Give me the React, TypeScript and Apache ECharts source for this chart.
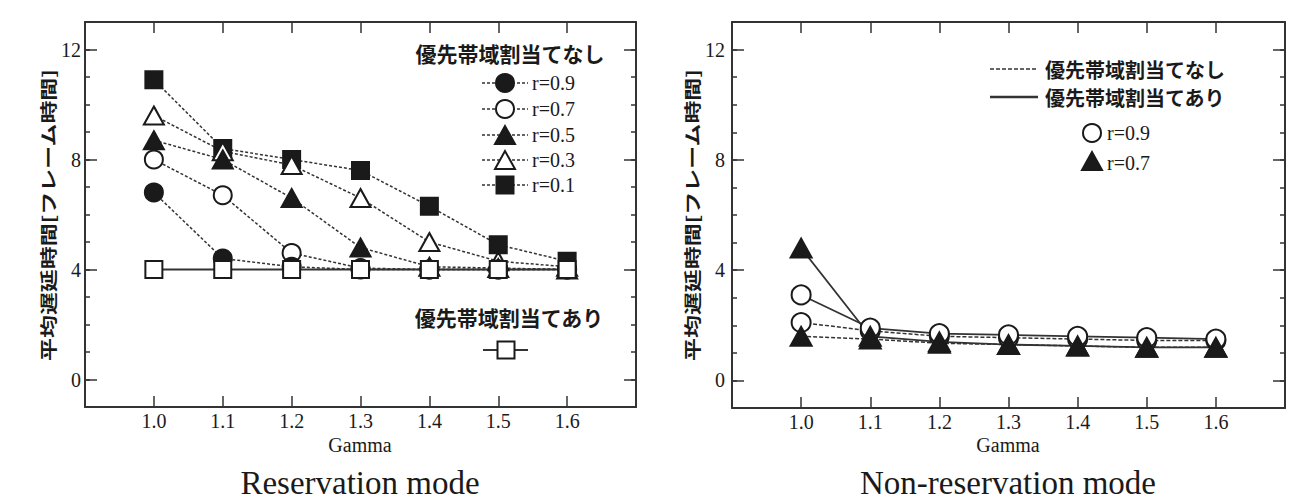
import React, { useEffect, useRef } from 'react';
import * as echarts from 'echarts';

// ---- data ----
const GAMMA = [1.0, 1.1, 1.2, 1.3, 1.4, 1.5, 1.6];
const Y_LABELS = [0, 4, 8, 12];

// Reservation mode: 優先帯域割当てなし
const RES_R09 = [6.8, 4.4, 4.1, 4.0, 4.0, 4.0, 4.0];
const RES_R07 = [8.0, 6.7, 4.6, 4.05, 4.0, 4.0, 4.0];
const RES_R05 = [8.7, 8.0, 6.6, 4.8, 4.1, 4.05, 4.0];
const RES_R03 = [9.6, 8.3, 7.8, 6.6, 5.0, 4.3, 4.1];
const RES_R01 = [10.9, 8.4, 8.0, 7.6, 6.3, 4.9, 4.3];
// Reservation mode: 優先帯域割当てあり
const RES_ALLOC = [4.0, 4.0, 4.0, 4.0, 4.0, 4.0, 4.0];

// Non-reservation mode
const NON_R09_NONE = [2.1, 1.8, 1.6, 1.55, 1.5, 1.45, 1.45];
const NON_R07_NONE = [1.6, 1.5, 1.35, 1.3, 1.25, 1.2, 1.2];
const NON_R09_ALLOC = [3.1, 1.9, 1.7, 1.65, 1.6, 1.55, 1.5];
const NON_R07_ALLOC = [4.8, 1.6, 1.4, 1.3, 1.25, 1.2, 1.2];

const HEAD_NONE = '優先帯域割当てなし';
const HEAD_ALLOC = '優先帯域割当てあり';
const Y_NAME = '平均遅延時間[フレーム時間]';
const X_NAME = 'Gamma';
const TITLES = ['Reservation mode', 'Non-reservation mode'];
const R_LABELS_LEFT = ['r=0.9', 'r=0.7', 'r=0.5', 'r=0.3', 'r=0.1'];
const R_LABELS_RIGHT = ['r=0.9', 'r=0.7'];

const INK = '#1a1a1a';
const LINE = '#333';
const SERIF = 'Liberation Serif';
const CJK = 'Noto Sans CJK JP';
const DOT = [3, 2];
const DASH = [4, 2];

const pairs = (arr: number[]) => GAMMA.map((g, i) => [g, arr[i]]);

type Mark = 'circle' | 'rect' | 'triangle';

function App() {
  const ref = useRef<HTMLDivElement>(null);
  useEffect(() => {
    if (!ref.current) return;
    const chart = echarts.init(ref.current, null, { renderer: 'svg' });

    const mkX = (gridIndex: number, position: 'top' | 'bottom') => ({
      type: 'value',
      gridIndex,
      position,
      min: 0.9,
      max: 1.7,
      axisLine: { show: true, onZero: false, lineStyle: { color: LINE, width: 2 } },
      axisTick: { show: true, inside: true, length: 11, customValues: GAMMA, lineStyle: { color: LINE, width: 1.5 } },
      axisLabel:
        position === 'bottom'
          ? {
              show: true,
              customValues: GAMMA,
              formatter: (v: number) => Number(v).toFixed(1),
              fontSize: 20,
              fontFamily: SERIF,
              color: INK,
              margin: 4,
            }
          : { show: false },
      splitLine: { show: false },
    });

    const mkY = (gridIndex: number, position: 'left' | 'right', major: boolean, labels: boolean, margin: number) => {
      const tick: any = { show: true, inside: true, length: major ? 12 : 5, lineStyle: { color: LINE, width: 1.5 } };
      if (major) tick.customValues = Y_LABELS;
      return {
        type: 'value',
        gridIndex,
        position,
        min: -1,
        max: 13,
        interval: 1,
        axisLine: { show: !major, onZero: false, lineStyle: { color: LINE, width: 2 } },
        axisTick: tick,
        axisLabel: labels
          ? { show: true, customValues: Y_LABELS, fontSize: 20, fontFamily: SERIF, color: INK, margin }
          : { show: false },
        splitLine: { show: false },
      };
    };

    const mkSeries = (
      name: string,
      data: number[],
      xi: number,
      yi: number,
      mark: Mark,
      filled: boolean,
      dash: number[] | 'solid',
      size: number
    ) => ({
      type: 'line',
      name,
      xAxisIndex: xi,
      yAxisIndex: yi,
      data: pairs(data),
      symbol: mark,
      symbolSize: mark === 'triangle' ? [size + 2, size] : size,
      showSymbol: true,
      lineStyle: { color: LINE, width: dash === 'solid' ? 1.8 : 1.5, type: dash },
      itemStyle: { color: filled ? INK : '#fff', borderColor: INK, borderWidth: 2, opacity: 1 },
      emphasis: { disabled: true },
      silent: true,
    });

    const series = [
      mkSeries('r=0.1', RES_R01, 0, 0, 'rect', true, DOT, 17),
      mkSeries('r=0.3', RES_R03, 0, 0, 'triangle', false, DOT, 18),
      mkSeries('r=0.5', RES_R05, 0, 0, 'triangle', true, DOT, 18),
      mkSeries('r=0.7', RES_R07, 0, 0, 'circle', false, DOT, 18),
      mkSeries('r=0.9', RES_R09, 0, 0, 'circle', true, DOT, 18),
      mkSeries(HEAD_ALLOC, RES_ALLOC, 0, 0, 'rect', false, 'solid', 17),
      mkSeries('なし r=0.9', NON_R09_NONE, 2, 4, 'circle', false, DASH, 19),
      mkSeries('なし r=0.7', NON_R07_NONE, 2, 4, 'triangle', true, DASH, 19),
      mkSeries('あり r=0.9', NON_R09_ALLOC, 2, 4, 'circle', false, 'solid', 19),
      mkSeries('あり r=0.7', NON_R07_ALLOC, 2, 4, 'triangle', true, 'solid', 19),
    ];

    // legend graphics
    const marker = (m: Mark, filled: boolean, cx: number, cy: number, s: number): any => {
      const style = { fill: filled ? INK : '#fff', stroke: INK, lineWidth: 2 };
      if (m === 'circle') return { type: 'circle', shape: { cx, cy, r: s / 2 }, style, z: 10 };
      if (m === 'rect') return { type: 'rect', shape: { x: cx - s / 2, y: cy - s / 2, width: s, height: s }, style, z: 10 };
      return {
        type: 'polygon',
        shape: { points: [[cx, cy - s / 2], [cx - s / 2 - 1, cy + s / 2], [cx + s / 2 + 1, cy + s / 2]] },
        style,
        z: 10,
      };
    };
    const hline = (x1: number, x2: number, y: number, dash: number[] | null, w = 1.5): any => ({
      type: 'line',
      shape: { x1, y1: y, x2, y2: y },
      style: { stroke: LINE, lineWidth: w, lineDash: dash || undefined },
      z: 9,
    });
    const txt = (text: string, x: number, y: number, size: number, font: string, align: string, bold = false): any => ({
      type: 'text',
      x,
      y,
      z: 11,
      style: {
        text,
        fontSize: size,
        fontFamily: font,
        fontWeight: bold ? 'bold' : 'normal',
        fill: INK,
        align,
        verticalAlign: 'middle',
        textAlign: align,
        textVerticalAlign: 'middle',
      },
    });

    const leftMarks: [Mark, boolean][] = [
      ['circle', true],
      ['circle', false],
      ['triangle', true],
      ['triangle', false],
      ['rect', true],
    ];
    const leftYs = [83, 109, 135, 160, 185];

    const graphics: any[] = [];
    // left legend
    graphics.push(txt(HEAD_NONE, 510, 53, 21, CJK, 'center', true));
    leftMarks.forEach(([m, f], i) => {
      graphics.push(hline(482, 528, leftYs[i], DOT));
      graphics.push(marker(m, f, 505, leftYs[i], m === 'rect' ? 17 : 18));
      graphics.push(txt(R_LABELS_LEFT[i], 532, leftYs[i], 20, SERIF, 'left'));
    });
    graphics.push(txt(HEAD_ALLOC, 509, 317, 21, CJK, 'center', true));
    graphics.push(hline(483, 528, 350, null, 1.8));
    graphics.push(marker('rect', false, 506, 350, 17));

    // right legend
    graphics.push(hline(990, 1038, 69, DASH));
    graphics.push(txt(HEAD_NONE, 1045, 69, 20, CJK, 'left', true));
    graphics.push(hline(990, 1038, 97, null, 2.5));
    graphics.push(txt(HEAD_ALLOC, 1045, 97, 20, CJK, 'left', true));
    graphics.push(marker('circle', false, 1092, 133, 18));
    graphics.push(txt(R_LABELS_RIGHT[0], 1107, 133, 20, SERIF, 'left'));
    graphics.push(marker('triangle', true, 1092, 161, 18));
    graphics.push(txt(R_LABELS_RIGHT[1], 1107, 163, 20, SERIF, 'left'));

    // axis names and titles
    [48, 692].forEach((x) => {
      graphics.push({
        type: 'text',
        x,
        y: 215,
        rotation: Math.PI / 2,
        scaleX: 1.35,
        z: 11,
        style: {
          text: Y_NAME,
          fontSize: 17,
          fontFamily: CJK,
          fontWeight: 'bold',
          fill: INK,
          align: 'center',
          verticalAlign: 'middle',
          textAlign: 'center',
          textVerticalAlign: 'middle',
        },
      });
    });
    graphics.push(txt(X_NAME, 360, 445, 20, SERIF, 'center'));
    graphics.push(txt(X_NAME, 1008, 445, 20, SERIF, 'center'));
    graphics.push(txt(TITLES[0], 360, 483, 33, SERIF, 'center'));
    graphics.push(txt(TITLES[1], 1008, 483, 33, SERIF, 'center'));

    chart.setOption({
      animation: false,
      backgroundColor: '#fff',
      grid: [
        { left: 85, top: 22, width: 551, height: 385 },
        { left: 732, top: 22, width: 553, height: 386 },
      ],
      xAxis: [mkX(0, 'bottom'), mkX(0, 'top'), mkX(1, 'bottom'), mkX(1, 'top')],
      yAxis: [
        mkY(0, 'left', false, false, 4),
        mkY(0, 'left', true, true, 4),
        mkY(0, 'right', false, false, 4),
        mkY(0, 'right', true, false, 4),
        mkY(1, 'left', false, false, 7),
        mkY(1, 'left', true, true, 7),
        mkY(1, 'right', false, false, 7),
        mkY(1, 'right', true, false, 7),
      ],
      series,
      graphic: graphics,
    });

    return () => chart.dispose();
  }, []);

  return <div ref={ref} style={{ position: 'fixed', left: 0, top: 0, width: 1294, height: 502 }} />;
}

export default App;
